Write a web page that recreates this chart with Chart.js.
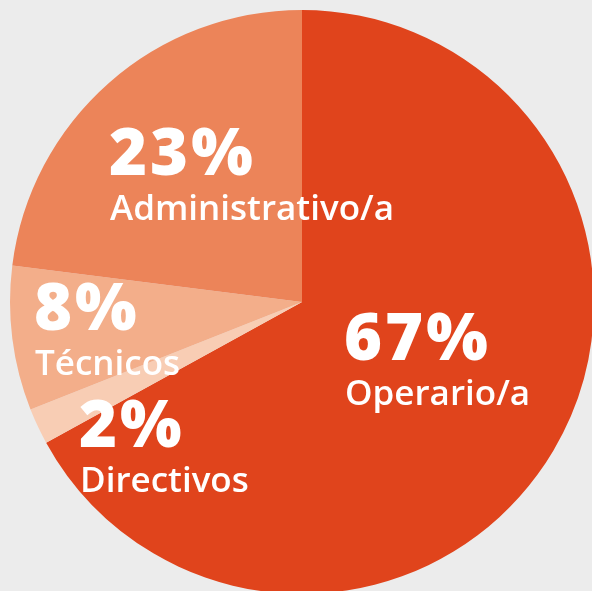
<!DOCTYPE html>
<html>
<head>
<meta charset="utf-8">
<script src="https://cdn.jsdelivr.net/npm/chart.js@4"></script>
<style>
  html, body { margin: 0; padding: 0; background: #ececec; overflow: hidden; }
  #wrap { position: absolute; left: 0; top: 0; width: 604px; height: 604px; }
</style>
</head>
<body>
<div id="wrap"><canvas id="pieChart"></canvas></div>
<script>
// Datos del gráfico
const categorias = ["Operario/a", "Directivos", "Técnicos", "Administrativo/a"];
const porcentajes = [67, 2, 8, 23];
const colores = ["#e0441c", "#f8cdb4", "#f3ae8a", "#ec8459"];

// Posición de cada etiqueta (esquina izquierda, línea base del porcentaje)
const posEtiquetas = [
  [347, 360],
  [82, 447],
  [37, 330],
  [112, 175],
];

const etiquetasPlugin = {
  id: "etiquetas",
  afterDraw(chart) {
    const ctx = chart.ctx;
    ctx.save();
    ctx.fillStyle = "#ffffff";
    ctx.textAlign = "left";
    ctx.textBaseline = "alphabetic";
    porcentajes.forEach((valor, i) => {
      const [x, y] = posEtiquetas[i];
      ctx.font = "800 65px 'Open Sans'";
      ctx.letterSpacing = "3px";
      ctx.fillText(valor + "%", x - 3, y);
      ctx.font = "600 35px 'Open Sans'";
      ctx.letterSpacing = "0px";
      ctx.fillText(categorias[i], x - 2, y + 45);
    });
    ctx.restore();
  },
};

new Chart(document.getElementById("pieChart").getContext("2d"), {
  type: "pie",
  data: {
    labels: categorias,
    datasets: [
      {
        data: porcentajes,
        backgroundColor: colores,
        borderWidth: 0,
      },
    ],
  },
  options: {
    responsive: true,
    maintainAspectRatio: false,
    animation: false,
    layout: { padding: 10 },
    plugins: {
      legend: { display: false },
      tooltip: { enabled: false },
    },
  },
  plugins: [etiquetasPlugin],
});
</script>
</body>
</html>
